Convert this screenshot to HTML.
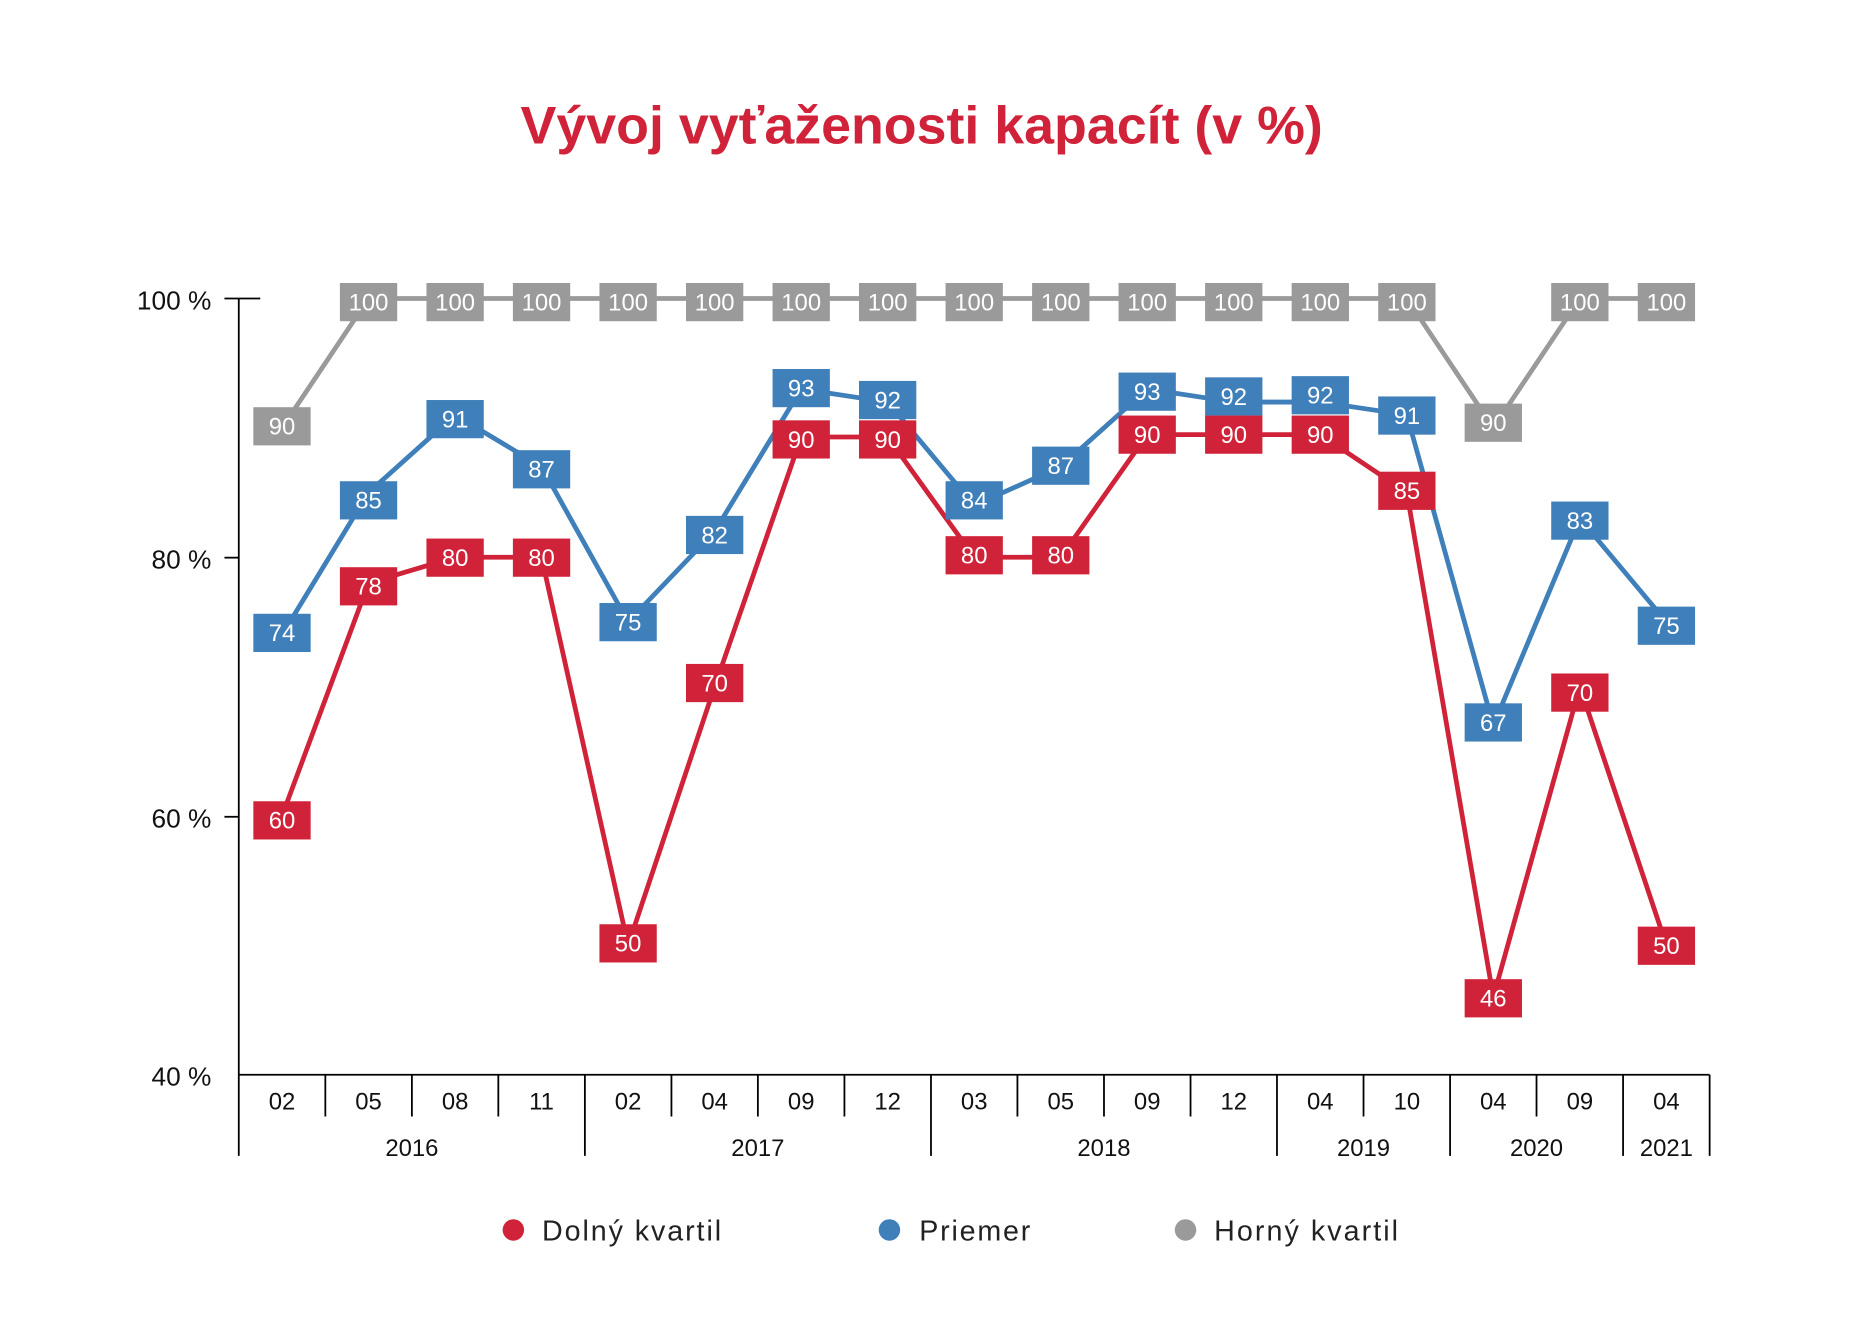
<!DOCTYPE html>
<html><head><meta charset="utf-8"><style>html,body{margin:0;padding:0;background:#fff}svg{display:block}</style></head>
<body>
<svg width="1872" height="1341" viewBox="0 0 1568 1123" preserveAspectRatio="none" xmlns="http://www.w3.org/2000/svg" font-family="Liberation Sans, DejaVu Sans, sans-serif">
<rect width="1568" height="1123" fill="#fff"/>
<text x="772" y="120" text-anchor="middle" font-size="44" font-weight="bold" fill="#d0233a" textLength="672" lengthAdjust="spacingAndGlyphs">Vývoj vyťaženosti kapacít (v %)</text>
<g stroke="#000" stroke-width="1.5" fill="none">
<line x1="200" y1="250" x2="200" y2="968"/>
<line x1="188" y1="250" x2="218" y2="250"/>
<line x1="188" y1="467" x2="200" y2="467"/>
<line x1="188" y1="684" x2="200" y2="684"/>
<line x1="200" y1="900" x2="1432" y2="900"/>
<line x1="272.5" y1="900" x2="272.5" y2="935"/><line x1="345" y1="900" x2="345" y2="935"/><line x1="417.4" y1="900" x2="417.4" y2="935"/>
<line x1="489.9" y1="900" x2="489.9" y2="968"/>
<line x1="562.4" y1="900" x2="562.4" y2="935"/><line x1="634.8" y1="900" x2="634.8" y2="935"/><line x1="707.3" y1="900" x2="707.3" y2="935"/>
<line x1="779.8" y1="900" x2="779.8" y2="968"/>
<line x1="852.2" y1="900" x2="852.2" y2="935"/><line x1="924.7" y1="900" x2="924.7" y2="935"/><line x1="997.2" y1="900" x2="997.2" y2="935"/>
<line x1="1069.6" y1="900" x2="1069.6" y2="968"/>
<line x1="1142.1" y1="900" x2="1142.1" y2="935"/>
<line x1="1214.6" y1="900" x2="1214.6" y2="968"/>
<line x1="1287" y1="900" x2="1287" y2="935"/>
<line x1="1359.5" y1="900" x2="1359.5" y2="968"/>
<line x1="1432" y1="900" x2="1432" y2="968"/>
</g>
<g font-size="22" fill="#111" text-anchor="end">
<text x="177" y="259">100 %</text><text x="177" y="476">80 %</text><text x="177" y="693">60 %</text><text x="177" y="909">40 %</text>
</g>
<g font-size="20" fill="#111" text-anchor="middle">
<text x="236.2" y="929">02</text><text x="308.7" y="929">05</text><text x="381.2" y="929">08</text><text x="453.6" y="929">11</text>
<text x="526.1" y="929">02</text><text x="598.6" y="929">04</text><text x="671.1" y="929">09</text><text x="743.5" y="929">12</text>
<text x="816" y="929">03</text><text x="888.5" y="929">05</text><text x="960.9" y="929">09</text><text x="1033.4" y="929">12</text>
<text x="1105.9" y="929">04</text><text x="1178.4" y="929">10</text><text x="1250.8" y="929">04</text><text x="1323.3" y="929">09</text><text x="1395.8" y="929">04</text>
<text x="345" y="968">2016</text><text x="634.8" y="968">2017</text><text x="924.7" y="968">2018</text><text x="1142.1" y="968">2019</text><text x="1287" y="968">2020</text><text x="1395.8" y="968">2021</text>
</g>
<g fill="none" stroke-width="4" stroke-linejoin="round">
<polyline stroke="#9a9a9a" points="236.2,358.3 308.7,250 381.2,250 453.6,250 526.1,250 598.6,250 671.1,250 743.5,250 816,250 888.5,250 960.9,250 1033.4,250 1105.9,250 1178.4,250 1250.8,358.3 1323.3,250 1395.8,250"/>
<polyline stroke="#3f7fba" points="236.2,531.7 308.7,412.5 381.2,347.5 453.6,390.8 526.1,520.8 598.6,445 671.1,325.8 743.5,336.7 816,423.3 888.5,390.8 960.9,325.8 1033.4,336.7 1105.9,336.7 1178.4,347.5 1250.8,607.5 1323.3,434.2 1395.8,520.8"/>
<polyline stroke="#d0233a" points="236.2,683.3 308.7,488.3 381.2,466.7 453.6,466.7 526.1,791.7 598.6,575 671.1,366 743.5,366 816,466.7 888.5,466.7 960.9,364 1033.4,364 1105.9,364 1178.4,412.5 1250.8,835 1323.3,575 1395.8,791.7"/>
</g>
<g fill="#9a9a9a">
<rect x="212.2" y="341" width="48" height="32"/><rect x="284.7" y="237" width="48" height="32"/><rect x="357.2" y="237" width="48" height="32"/><rect x="429.6" y="237" width="48" height="32"/><rect x="502.1" y="237" width="48" height="32"/><rect x="574.6" y="237" width="48" height="32"/><rect x="647.1" y="237" width="48" height="32"/><rect x="719.5" y="237" width="48" height="32"/><rect x="792" y="237" width="48" height="32"/><rect x="864.5" y="237" width="48" height="32"/><rect x="936.9" y="237" width="48" height="32"/><rect x="1009.4" y="237" width="48" height="32"/><rect x="1081.9" y="237" width="48" height="32"/><rect x="1154.4" y="237" width="48" height="32"/><rect x="1226.8" y="338" width="48" height="32"/><rect x="1299.3" y="237" width="48" height="32"/><rect x="1371.8" y="237" width="48" height="32"/>
</g>
<g fill="#3f7fba">
<rect x="212.2" y="514" width="48" height="32"/><rect x="284.7" y="403" width="48" height="32"/><rect x="357.2" y="335" width="48" height="32"/><rect x="429.6" y="377" width="48" height="32"/><rect x="502.1" y="505" width="48" height="32"/><rect x="574.6" y="432" width="48" height="32"/><rect x="647.1" y="309" width="48" height="32"/><rect x="719.5" y="319" width="48" height="32"/><rect x="792" y="403" width="48" height="32"/><rect x="864.5" y="374" width="48" height="32"/><rect x="936.9" y="312" width="48" height="32"/><rect x="1009.4" y="316" width="48" height="32"/><rect x="1081.9" y="315" width="48" height="32"/><rect x="1154.4" y="332" width="48" height="32"/><rect x="1226.8" y="589" width="48" height="32"/><rect x="1299.3" y="420" width="48" height="32"/><rect x="1371.8" y="508" width="48" height="32"/>
</g>
<g fill="#d0233a">
<rect x="212.2" y="671" width="48" height="32"/><rect x="284.7" y="475" width="48" height="32"/><rect x="357.2" y="451" width="48" height="32"/><rect x="429.6" y="451" width="48" height="32"/><rect x="502.1" y="774" width="48" height="32"/><rect x="574.6" y="556" width="48" height="32"/><rect x="647.1" y="352" width="48" height="32"/><rect x="719.5" y="352" width="48" height="32"/><rect x="792" y="449" width="48" height="32"/><rect x="864.5" y="449" width="48" height="32"/><rect x="936.9" y="348" width="48" height="32"/><rect x="1009.4" y="348" width="48" height="32"/><rect x="1081.9" y="348" width="48" height="32"/><rect x="1154.4" y="395" width="48" height="32"/><rect x="1226.8" y="820" width="48" height="32"/><rect x="1299.3" y="564" width="48" height="32"/><rect x="1371.8" y="776" width="48" height="32"/>
</g>
<g fill="#fff" font-size="20" text-anchor="middle">
<text x="236.2" y="364">90</text><text x="308.7" y="260">100</text><text x="381.2" y="260">100</text><text x="453.6" y="260">100</text><text x="526.1" y="260">100</text><text x="598.6" y="260">100</text><text x="671.1" y="260">100</text><text x="743.5" y="260">100</text><text x="816" y="260">100</text><text x="888.5" y="260">100</text><text x="960.9" y="260">100</text><text x="1033.4" y="260">100</text><text x="1105.9" y="260">100</text><text x="1178.4" y="260">100</text><text x="1250.8" y="361">90</text><text x="1323.3" y="260">100</text><text x="1395.8" y="260">100</text>
<text x="236.2" y="537">74</text><text x="308.7" y="426">85</text><text x="381.2" y="358">91</text><text x="453.6" y="400">87</text><text x="526.1" y="528">75</text><text x="598.6" y="455">82</text><text x="671.1" y="332">93</text><text x="743.5" y="342">92</text><text x="816" y="426">84</text><text x="888.5" y="397">87</text><text x="960.9" y="335">93</text><text x="1033.4" y="339">92</text><text x="1105.9" y="338">92</text><text x="1178.4" y="355">91</text><text x="1250.8" y="612">67</text><text x="1323.3" y="443">83</text><text x="1395.8" y="531">75</text>
<text x="236.2" y="694">60</text><text x="308.7" y="498">78</text><text x="381.2" y="474">80</text><text x="453.6" y="474">80</text><text x="526.1" y="797">50</text><text x="598.6" y="579">70</text><text x="671.1" y="375">90</text><text x="743.5" y="375">90</text><text x="816" y="472">80</text><text x="888.5" y="472">80</text><text x="960.9" y="371">90</text><text x="1033.4" y="371">90</text><text x="1105.9" y="371">90</text><text x="1178.4" y="418">85</text><text x="1250.8" y="843">46</text><text x="1323.3" y="587">70</text><text x="1395.8" y="799">50</text>
</g>
<circle cx="430" cy="1030" r="9" fill="#d0233a"/>
<circle cx="745" cy="1030" r="9" fill="#3f7fba"/>
<circle cx="993" cy="1030" r="9" fill="#9a9a9a"/>
<g font-size="24" fill="#222" letter-spacing="1">
<text x="454" y="1039" textLength="151" lengthAdjust="spacing">Dolný kvartil</text>
<text x="770" y="1039" textLength="94" lengthAdjust="spacing">Priemer</text>
<text x="1017" y="1039" textLength="155" lengthAdjust="spacing">Horný kvartil</text>
</g>
</svg>
</body></html>
